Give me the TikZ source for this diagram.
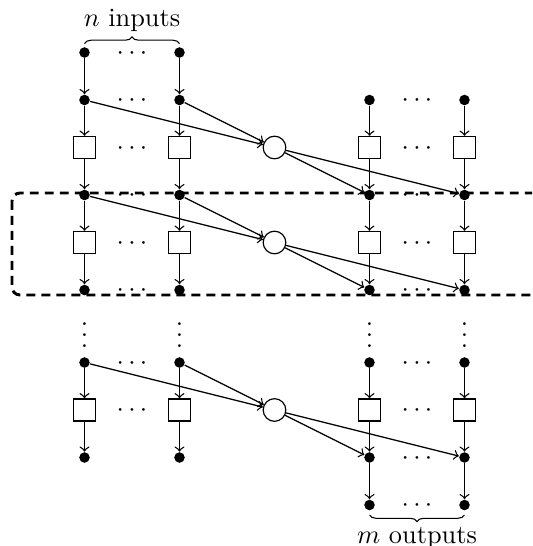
\documentclass[tikz,border=0pt]{standalone}
\usetikzlibrary{decorations.pathreplacing}
\begin{document}
\begin{tikzpicture}[x=0.38pt,y=-0.38pt,
  dotnode/.style={circle,fill,inner sep=0pt,minimum size=4pt},
  boxnode/.style={draw,line width=0.45pt,inner sep=0pt,minimum size=8.4pt},
  sumnode/.style={circle,draw,line width=0.45pt,inner sep=0pt,minimum size=8.6pt},
  hdots/.style={anchor=base,inner sep=0pt,yshift=-2.5pt},
  vdotsnode/.style={anchor=base,inner sep=0pt},
  arr/.style={->,line width=0.5pt},
  bracestyle/.style={decorate,decoration={brace,amplitude=2.5pt},line width=0.4pt},
  dashbox/.style={line width=1.1pt,dash pattern=on 3.4pt off 2.3pt,rounded corners=3pt},
  labeltext/.style={anchor=base,inner sep=0pt}
  ]
\clip (0,0) rectangle (532,546);
% left (input) columns
\foreach \c/\x in {a/84.5,b/179.5}{
  \node[dotnode] (\c1) at (\x,52.5) {};
  \node[dotnode] (\c2) at (\x,100) {};
  \node[boxnode] (\c3) at (\x,147.5) {};
  \node[dotnode] (\c4) at (\x,195) {};
  \node[boxnode] (\c5) at (\x,242.5) {};
  \node[dotnode] (\c6) at (\x,290) {};
  \node[vdotsnode] (\c v) at (\x,347) {$\vdots$};
  \node[dotnode] (\c7) at (\x,362.5) {};
  \node[boxnode] (\c8) at (\x,410) {};
  \node[dotnode] (\c9) at (\x,457.5) {};
}
% right (output) columns
\foreach \c/\x in {c/369.5,d/464.5}{
  \node[dotnode] (\c2) at (\x,100) {};
  \node[boxnode] (\c3) at (\x,147.5) {};
  \node[dotnode] (\c4) at (\x,195) {};
  \node[boxnode] (\c5) at (\x,242.5) {};
  \node[dotnode] (\c6) at (\x,290) {};
  \node[vdotsnode] (\c v) at (\x,347) {$\vdots$};
  \node[dotnode] (\c7) at (\x,362.5) {};
  \node[boxnode] (\c8) at (\x,410) {};
  \node[dotnode] (\c9) at (\x,457.5) {};
  \node[dotnode] (\c10) at (\x,505) {};
}
% combining nodes
\node[sumnode] (s1) at (274.5,147.5) {};
\node[sumnode] (s2) at (274.5,242.5) {};
\node[sumnode] (s3) at (274.5,410) {};
% horizontal dots
\foreach \i/\y in {1/52.5,2/100,3/147.5,4/195,5/242.5,6/290,7/362.5,8/410}{
  \node[hdots] (hl\i) at (132,\y) {$\cdots$};
}
\foreach \i/\y in {2/100,3/147.5,4/195,5/242.5,6/290,7/362.5,8/410,9/457.5,10/505}{
  \node[hdots] (hr\i) at (417,\y) {$\cdots$};
}
% arrows, input side
\foreach \c in {a,b}{
  \draw[arr] (\c1) -- (\c2);
  \draw[arr] (\c2) -- (\c3);
  \draw[arr] (\c3) -- (\c4);
  \draw[arr] (\c4) -- (\c5);
  \draw[arr] (\c5) -- (\c6);
  \draw[arr] (\c7) -- (\c8);
  \draw[arr] (\c8) -- (\c9);
  \draw[arr] (\c2) -- (s1);
  \draw[arr] (\c4) -- (s2);
  \draw[arr] (\c7) -- (s3);
}
% arrows, output side
\foreach \c in {c,d}{
  \draw[arr] (\c2) -- (\c3);
  \draw[arr] (\c3) -- (\c4);
  \draw[arr] (\c4) -- (\c5);
  \draw[arr] (\c5) -- (\c6);
  \draw[arr] (\c7) -- (\c8);
  \draw[arr] (\c8) -- (\c9);
  \draw[arr] (\c9) -- (\c10);
  \draw[arr] (s1) -- (\c4);
  \draw[arr] (s2) -- (\c6);
  \draw[arr] (s3) -- (\c9);
}
% braces and labels
\coordinate (bl1) at (84.5,43.5);
\coordinate (bl2) at (179.5,43.5);
\coordinate (br1) at (369.5,515);
\coordinate (br2) at (464.5,515);
\draw[bracestyle] (bl1) -- (bl2);
\draw[bracestyle] (br2) -- (br1);
\node[labeltext] (inlabel) at (132,26.5) {$n$ inputs};
\node[labeltext] (outlabel) at (417,543) {$m$ outputs};
% dashed box
\draw[dashbox] (12,193) rectangle (570,295);
\end{tikzpicture}
\end{document}
